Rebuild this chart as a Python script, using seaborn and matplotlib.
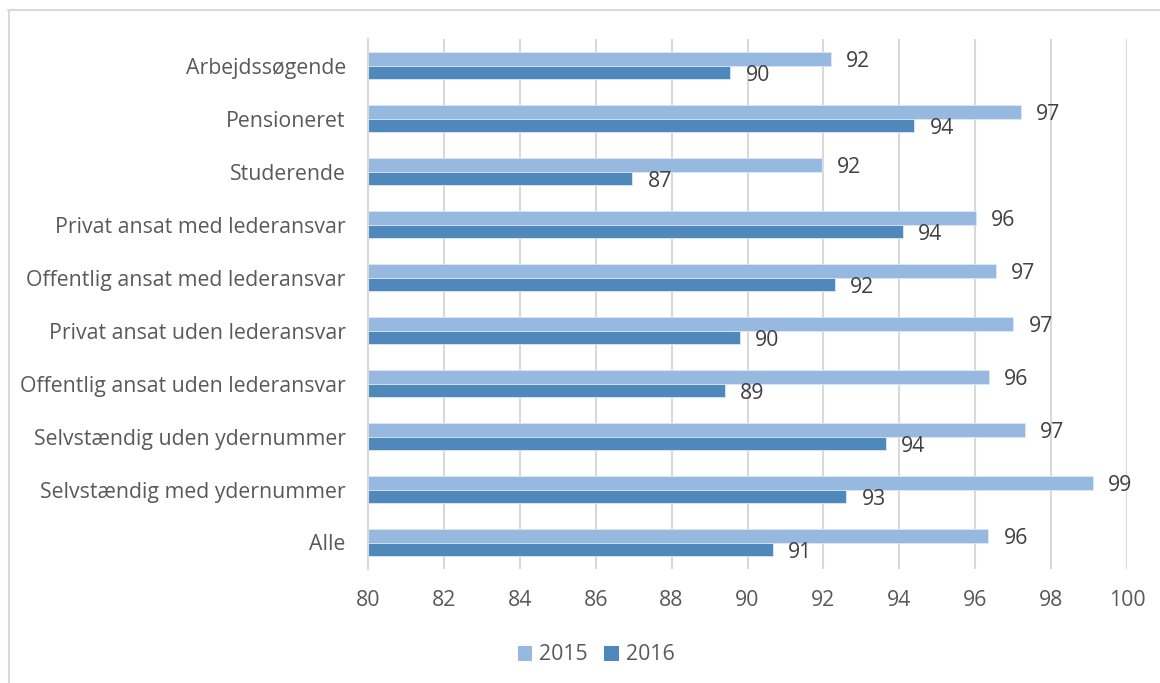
import matplotlib
matplotlib.use("Agg")
import matplotlib.pyplot as plt
from matplotlib.lines import Line2D
from matplotlib.patches import Patch
import numpy as np
import pandas as pd
import seaborn as sns

# Satisfaction scores by employment group, 2015 vs 2016
categories = [
    "Arbejdssøgende",
    "Pensioneret",
    "Studerende",
    "Privat ansat med lederansvar",
    "Offentlig ansat med lederansvar",
    "Privat ansat uden lederansvar",
    "Offentlig ansat uden lederansvar",
    "Selvstændig uden ydernummer",
    "Selvstændig med ydernummer",
    "Alle",
]
values_2015 = [92.2, 97.2, 91.95, 96.02, 96.55, 97.0, 96.36, 97.3, 99.1, 96.35]
values_2016 = [89.55, 94.4, 86.96, 94.1, 92.3, 89.8, 89.4, 93.65, 92.6, 90.66]
years = ["2015", "2016"]
x_ticks = [80, 82, 84, 86, 88, 90, 92, 94, 96, 98, 100]

df = pd.DataFrame({
    "Gruppe": categories * 2,
    "År": [years[0]] * len(categories) + [years[1]] * len(categories),
    "Score": values_2015 + values_2016,
})

sns.set_theme(style="white")
plt.rcParams["font.family"] = ["Open Sans", "DejaVu Sans"]

palette = {"2015": "#97B9E0", "2016": "#4F88BB"}
text_grey = "#595959"
label_dark = "#404040"
grid_grey = "#D9D9D9"
fs = 15.3

fig = plt.figure(figsize=(11.6, 6.83), dpi=100)
ax = fig.add_axes([368 / 1160, 1 - 569 / 683, (1127 - 368) / 1160, (569 - 39) / 683])

sns.barplot(
    data=df, y="Gruppe", x="Score", hue="År", order=categories,
    hue_order=years, palette=palette, orient="h", width=0.52, saturation=1,
    edgecolor="#DCE8F5", linewidth=0.6, legend=False, ax=ax, errorbar=None,
)

ax.set_xlim(80, 100)
ax.set_ylim(len(categories) - 0.5, -0.5)
ax.set_xticks(x_ticks)
ax.set_xticklabels([str(t) for t in x_ticks])
ax.set_xlabel("")
ax.set_ylabel("")
ax.grid(axis="x", color=grid_grey, linewidth=1.5)
ax.grid(axis="y", visible=False)
ax.set_axisbelow(True)
for side in ["top", "right", "bottom"]:
    ax.spines[side].set_visible(False)
ax.spines["left"].set_color(grid_grey)
ax.spines["left"].set_linewidth(1.5)
ax.tick_params(axis="x", length=0, pad=15, labelsize=fs, labelcolor=text_grey)
ax.tick_params(axis="y", length=0, pad=16, labelsize=fs, labelcolor=text_grey)

# Value labels to the right of each bar
for container in ax.containers:
    for bar in container:
        v = bar.get_width() + bar.get_x()
        yc = bar.get_y() + bar.get_height() / 2
        ax.annotate(f"{v:.0f}", xy=(v, yc), xytext=(11, -2.3),
                    textcoords="offset points", ha="left", va="center",
                    fontsize=fs, color=label_dark, annotation_clip=False)

handles = [Patch(facecolor=palette[y], edgecolor="none") for y in years]
fig.legend(handles, years, loc="center", bbox_to_anchor=(596 / 1160, 1 - 655 / 683),
           ncol=2, frameon=False, fontsize=fs, handlelength=0.7, handleheight=0.7,
           handletextpad=0.3, columnspacing=0.8, labelcolor=text_grey)

# Frame lines along the top and left edges of the figure
fig.add_artist(Line2D([8 / 1160, 1.0], [1 - 10 / 683, 1 - 10 / 683],
                      transform=fig.transFigure, color=grid_grey, linewidth=1.5))
fig.add_artist(Line2D([8.5 / 1160, 8.5 / 1160], [0.0, 1 - 10 / 683],
                      transform=fig.transFigure, color=grid_grey, linewidth=1.5))

fig.savefig("out.png", dpi=100, facecolor="white")
